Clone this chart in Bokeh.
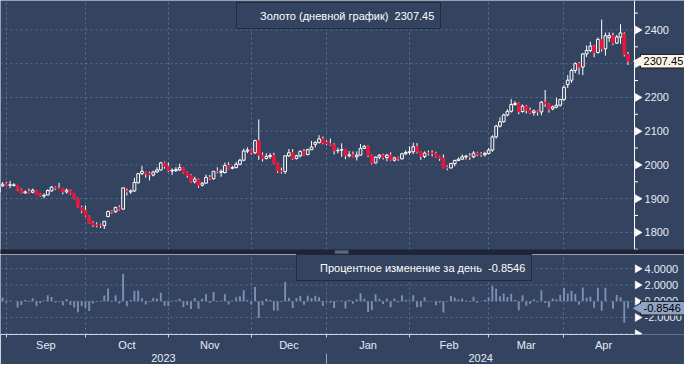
import numpy as np
from bokeh.plotting import figure
from bokeh.models import (FixedTicker, LinearAxis, Range1d, Legend, LegendItem, ColumnDataSource)
from bokeh.core.properties import value
from bokeh.layouts import column
from bokeh.embed import file_html
from bokeh.resources import INLINE

# ---- data (trading-day index 0 = 29 Aug 2023 ... 167 = 23 Apr 2024) ----
opens = [1920, 1938, 1944,
         1940, 1939, 1939, 1926, 1917, 1921, 1919, 1924, 1914, 1908, 1911, 1923, 1934, 1931, 1930, 1920, 1925, 1915, 1900, 1874, 1865,
         1848, 1828, 1822, 1822, 1820, 1847, 1862, 1861, 1874, 1869, 1923, 1920, 1923, 1947, 1974, 1977, 1975, 1970, 1979, 1985, 2006, 1996,
         1982, 1983, 1985, 1992, 1978, 1969, 1950, 1958, 1940, 1946, 1963, 1959, 1981, 1978, 1977, 1998, 1990, 1992, 2002, 2014, 2041, 2044,
         2036, 2072, 2029, 2019, 2025, 2028, 2005, 1982, 1980, 2027, 2036, 2019, 2027, 2040, 2031, 2045, 2061, 2066, 2077, 2067,
         2063, 2059, 2042, 2044, 2045, 2027, 2030, 2024, 2029, 2049, 2055, 2028, 2006, 2023, 2029, 2022, 2029, 2014, 2021, 2018, 2033, 2037,
         2039, 2054, 2039, 2025, 2035, 2035, 2034, 2024, 2020, 1993, 1991, 2004, 2013, 2017, 2024, 2026, 2024, 2035, 2032, 2030, 2034,
         2044, 2083, 2115, 2128, 2148, 2159, 2179, 2182, 2158, 2174, 2162, 2155, 2160, 2157, 2186, 2181, 2166, 2171, 2177, 2194,
         2238, 2251, 2280, 2300, 2290, 2329, 2339, 2352, 2333, 2372, 2344, 2377, 2383, 2361, 2379, 2388, 2327]
highs = [1938, 1949, 1950,
         1953, 1946, 1940, 1930, 1924, 1930, 1930, 1926, 1916, 1915, 1928, 1937, 1937, 1947, 1932, 1930, 1927, 1917, 1903, 1879, 1880,
         1850, 1833, 1830, 1826, 1834, 1865, 1866, 1876, 1880, 1933, 1930, 1927, 1962, 1976, 1997, 1980, 1980, 1983, 1993, 2009, 2010, 2007,
         1990, 1993, 2004, 1994, 1980, 1973, 1965, 1960, 1949, 1971, 1970, 1982, 1993, 1987, 2007, 2008, 1997, 2009, 2018, 2048, 2052, 2047,
         2075, 2135, 2037, 2034, 2035, 2036, 2007, 1992, 2028, 2047, 2047, 2030, 2043, 2047, 2048, 2071, 2070, 2088, 2084, 2073,
         2078, 2064, 2051, 2064, 2046, 2041, 2040, 2040, 2062, 2059, 2058, 2031, 2025, 2032, 2033, 2033, 2037, 2024, 2025, 2036, 2043, 2055,
         2066, 2065, 2041, 2040, 2043, 2043, 2039, 2027, 2031, 1998, 2006, 2016, 2022, 2031, 2030, 2035, 2041, 2039, 2038, 2039, 2050,
         2088, 2119, 2141, 2152, 2165, 2195, 2189, 2185, 2179, 2178, 2170, 2164, 2163, 2189, 2222, 2183, 2176, 2199, 2195, 2236,
         2266, 2285, 2304, 2305, 2331, 2354, 2365, 2355, 2378, 2431, 2392, 2393, 2392, 2385, 2417, 2393, 2335]
lows = [1914, 1935, 1937,
        1931, 1936, 1923, 1915, 1915, 1915, 1916, 1911, 1905, 1901, 1910, 1921, 1926, 1928, 1913, 1915, 1912, 1898, 1872, 1857, 1846,
        1825, 1816, 1815, 1813, 1810, 1845, 1855, 1858, 1865, 1867, 1909, 1914, 1920, 1945, 1970, 1962, 1954, 1966, 1976, 1983, 1989, 1979,
        1970, 1979, 1982, 1975, 1962, 1947, 1945, 1932, 1936, 1944, 1955, 1956, 1975, 1965, 1975, 1987, 1987, 1990, 1999, 2011, 2035, 2031,
        2032, 2015, 2010, 2016, 2018, 2002, 1976, 1974, 1973, 2024, 2015, 2016, 2022, 2028, 2028, 2044, 2052, 2064, 2061, 2058,
        2056, 2031, 2034, 2024, 2017, 2022, 2022, 2013, 2028, 2047, 2023, 2002, 2004, 2017, 2016, 2011, 2011, 2010, 2012, 2016, 2029, 2030,
        2032, 2034, 2015, 2020, 2028, 2025, 2021, 2012, 1990, 1984, 1989, 1996, 2012, 2015, 2016, 2015, 2020, 2026, 2024, 2025, 2031,
        2039, 2078, 2111, 2125, 2144, 2155, 2175, 2150, 2155, 2152, 2151, 2146, 2146, 2147, 2172, 2155, 2162, 2168, 2173, 2189,
        2228, 2243, 2272, 2268, 2266, 2320, 2334, 2319, 2330, 2336, 2324, 2365, 2355, 2359, 2359, 2321, 2296]
closes = [1934, 1943, 1940,
          1941, 1941, 1926, 1917, 1920, 1918, 1925, 1913, 1908, 1910, 1924, 1934, 1931, 1930, 1920, 1925, 1916, 1901, 1875, 1864, 1849,
          1827, 1822, 1821, 1820, 1833, 1862, 1860, 1874, 1869, 1932, 1920, 1923, 1948, 1974, 1981, 1973, 1971, 1979, 1985, 2006, 1995, 1983,
          1984, 1986, 1992, 1978, 1969, 1950, 1958, 1940, 1946, 1963, 1959, 1981, 1980, 1981, 1998, 1990, 1992, 2002, 2014, 2041, 2044, 2036,
          2072, 2029, 2019, 2025, 2028, 2005, 1982, 1980, 2027, 2036, 2019, 2027, 2040, 2031, 2045, 2053, 2067, 2077, 2065, 2063,
          2059, 2042, 2043, 2045, 2027, 2030, 2024, 2029, 2049, 2055, 2028, 2006, 2023, 2029, 2022, 2029, 2014, 2021, 2018, 2033, 2037, 2039,
          2054, 2039, 2025, 2035, 2034, 2034, 2024, 2020, 1992, 1991, 2004, 2013, 2017, 2024, 2026, 2024, 2035, 2031, 2031, 2034, 2044,
          2083, 2115, 2128, 2148, 2159, 2179, 2182, 2158, 2174, 2162, 2155, 2160, 2157, 2186, 2181, 2165, 2172, 2177, 2194, 2230,
          2251, 2280, 2300, 2290, 2329, 2339, 2352, 2333, 2372, 2344, 2383, 2383, 2361, 2379, 2391, 2327.34, 2307.45]

month_bounds = [2, 23, 45, 67, 87, 109, 130, 150]          # last session of previous month
month_centers = [12.5, 34, 56, 77, 98, 119.5, 140, 160.5]
month_labels = ["Sep", "Oct", "Nov", "Dec", "Jan", "Feb", "Mar", "Apr"]
year_centers = [43.7, 127.9]
year_labels = ["2023", "2024"]
year_bounds = [87]
price_ticks = [1800, 1900, 2000, 2100, 2200, 2300, 2400]
price_labels = ["1800", "1900", "2000", "2100", "2200", "2300", "2400"]
price_minor = [1750, 1850, 1950, 2050, 2150, 2250, 2350, 2450]
pct_ticks = [-4, -2, 0, 2, 4]
pct_labels = ["", "-2.0000", "0.0000", "2.0000", "4.0000"]
last_price = 2307.45
last_pct = -0.8546

# ---- style ----
BG = "#344360"
GRID = "#5b7094"
RED = "#e2193d"
WHITE = "#ffffff"
TXT = "#e4ecf7"
BAR = "#7d90b4"
DIV = "#1d2433"
FONT = "Liberation Sans"
FS = "11px"

W = 684
PXI = 3.768                 # pixels per session
X0 = 0.456                  # left edge of the frame (session units)
XE = 168.72                 # price-axis position (session units)
X1 = X0 + W / PXI           # right edge of the frame

TOP_H = 254
P_LO, P_HI = 1749.3, 2487.3  # price panel range (249 px)
P_PX = (TOP_H - 5) / (P_HI - P_LO)
P_BOT = P_LO - 5 / P_PX      # includes divider strip
BOT_FRAME = 80
AX_H = 30
Q_LO, Q_HI = -4.1, 5.76
Q_PX = BOT_FRAME / (Q_HI - Q_LO)

xs = list(range(len(closes)))
up = [i for i in xs if closes[i] >= opens[i]]
dn = [i for i in xs if closes[i] < opens[i]]

XR = Range1d(X0, X1)


def style_fig(f):
    f.xgrid.ticker = FixedTicker(ticks=month_bounds)
    f.xgrid.grid_line_color = GRID
    f.xgrid.grid_line_dash = "2 3"
    f.ygrid.visible = False


def right_scale(f, ticks, labels, minor, ylo, yhi, axis_line):
    n = len(ticks)
    # horizontal grid lines stop at the scale
    f.segment(x0=[X0] * n, x1=[XE] * n, y0=ticks, y1=ticks, line_color=GRID, line_dash="2 3", line_width=1)
    if axis_line:
        f.segment(x0=[XE], x1=[XE], y0=[ylo], y1=[yhi], line_color=WHITE, line_width=1)
    if minor:
        m = len(minor)
        f.segment(x0=[XE] * m, x1=[XE + 3.5 / PXI] * m, y0=minor, y1=minor, line_color=WHITE, line_width=1)
    f.scatter(x=[XE + 3.0 / PXI] * n, y=ticks, marker="triangle", angle=-np.pi / 2, size=8,
              fill_color=WHITE, line_color=WHITE, line_width=0.5)
    f.text(x=[XE] * n, y=ticks, text=labels, x_offset=10, text_baseline="middle", text_align="left",
           text_color=TXT, text_font=value(FONT), text_font_size=value(FS))


def tag(f, yv, txt, fill, ypx):
    h = 6.8 / ypx
    f.quad(left=[XE + 6.0 / PXI], right=[X1 + 5], bottom=[yv - h], top=[yv + h],
           fill_color=fill, line_color="#1a1a1a", line_width=1)
    f.scatter(x=[XE + 4.6 / PXI], y=[yv], marker="triangle", angle=np.pi / 2, size=11,
              fill_color=fill, line_color=None)
    f.text(x=[XE], y=[yv], text=[txt], x_offset=9, text_baseline="middle", text_align="left",
           text_color="#000000", text_font=value(FONT), text_font_size=value(FS))


# ================= price panel =================
top = figure(width=W, height=TOP_H, x_range=XR, y_range=Range1d(P_BOT, P_HI),
             output_backend="svg", toolbar_location=None, x_axis_location=None,
             y_axis_location=None, min_border=0,
             background_fill_color=BG, border_fill_color=BG, outline_line_color=None)
style_fig(top)
right_scale(top, price_ticks, price_labels, price_minor, P_LO, P_HI, True)

src_all = ColumnDataSource(dict(x=xs, lo=lows, hi=highs))
top.segment(x0="x", y0="lo", x1="x", y1="hi", source=src_all, line_color=WHITE, line_width=1)
src_up = ColumnDataSource(dict(x=up, t=[closes[i] for i in up], b=[opens[i] for i in up]))
src_dn = ColumnDataSource(dict(x=dn, t=[opens[i] for i in dn], b=[closes[i] for i in dn]))
top.vbar(x="x", top="t", bottom="b", width=0.74, source=src_up,
         fill_color=BG, line_color=WHITE, line_width=1)
top.vbar(x="x", top="t", bottom="b", width=0.74, source=src_dn,
         fill_color=RED, line_color=RED, line_width=1)

tag(top, last_price, f"{last_price:.2f}", "#fdf5ec", P_PX)

# panel divider with grip
top.quad(left=[X0 - 5], right=[X1 + 5], bottom=[P_BOT], top=[P_LO], fill_color=DIV, line_color=None)
top.segment(x0=[89.2, 89.2], x1=[92.8, 92.8], y0=[P_LO - 1.6 / P_PX, P_LO - 3.4 / P_PX],
            y1=[P_LO - 1.6 / P_PX, P_LO - 3.4 / P_PX], line_color="#8d97a6", line_width=1)

leg_r = top.quad(left=[], right=[], top=[], bottom=[], fill_color="#fbeee8", line_color=None)
leg1 = Legend(items=[LegendItem(label="Золото (дневной график)  " + f"{last_price:.2f}", renderers=[leg_r])],
              location=(236, TOP_H - 29), orientation="horizontal",
              background_fill_color=BG, background_fill_alpha=1.0,
              border_line_color="#0e1320", border_line_width=1,
              label_text_color=WHITE, label_text_font=FONT, label_text_font_size=FS,
              glyph_width=13, glyph_height=13, padding=6, margin=0, spacing=0, label_standoff=4)
top.add_layout(leg1)

# ================= percent-change panel =================
bot = figure(width=W, height=BOT_FRAME + AX_H, x_range=XR, y_range=Range1d(Q_LO, Q_HI),
             output_backend="svg", toolbar_location=None, x_axis_location=None,
             y_axis_location=None, min_border=0,
             background_fill_color=BG, border_fill_color=BG, outline_line_color=None)
style_fig(bot)
right_scale(bot, pct_ticks, pct_labels, None, Q_LO, Q_HI, False)

pct = [(closes[i] - closes[i - 1]) / closes[i - 1] * 100.0 for i in xs[1:]]
src_pct = ColumnDataSource(dict(x=xs[1:], v=pct))
bot.vbar(x="x", top="v", bottom=0, width=0.5, source=src_pct, fill_color=BAR, line_color=None)

tag(bot, last_pct, f"{last_pct:.4f}", "#8fa3c4", Q_PX)

leg_b = bot.quad(left=[], right=[], top=[], bottom=[], fill_color=BAR, line_color=None)
leg2 = Legend(items=[LegendItem(label="Процентное изменение за день  " + f"{last_pct:.4f}", renderers=[leg_b])],
              location=(296, BOT_FRAME - 27), orientation="horizontal",
              background_fill_color=BG, background_fill_alpha=1.0,
              border_line_color="#0e1320", border_line_width=1,
              label_text_color=WHITE, label_text_font=FONT, label_text_font_size=FS,
              glyph_width=13, glyph_height=13, padding=6, margin=0, spacing=0, label_standoff=4)
bot.add_layout(leg2)

xa = LinearAxis(ticker=FixedTicker(ticks=month_centers, minor_ticks=month_bounds),
                major_label_overrides={c: l for c, l in zip(month_centers, month_labels)},
                bounds=(X0, XE))
xa.axis_line_color = "#c9d2e0"
xa.major_tick_line_color = None
xa.major_tick_out = 3
xa.major_tick_in = 0
xa.minor_tick_line_color = "#c9d2e0"
xa.minor_tick_out = 3
xa.minor_tick_in = 0
xa.major_label_standoff = 1
xa.major_label_text_color = TXT
xa.major_label_text_font = FONT
xa.major_label_text_font_size = FS
bot.add_layout(xa, "below")

xy = LinearAxis(ticker=FixedTicker(ticks=year_centers, minor_ticks=year_bounds),
                major_label_overrides={c: l for c, l in zip(year_centers, year_labels)})
xy.axis_line_color = None
xy.major_tick_line_color = None
xy.major_tick_out = 0
xy.major_tick_in = 0
xy.minor_tick_line_color = "#9aa6b8"
xy.minor_tick_out = 13
xy.minor_tick_in = 0
xy.major_label_standoff = -13
xy.major_label_text_color = TXT
xy.major_label_text_font = FONT
xy.major_label_text_font_size = FS
bot.add_layout(xy, "below")

p = column(top, bot, spacing=0)
open("out.html", "w").write(file_html(p, INLINE))
